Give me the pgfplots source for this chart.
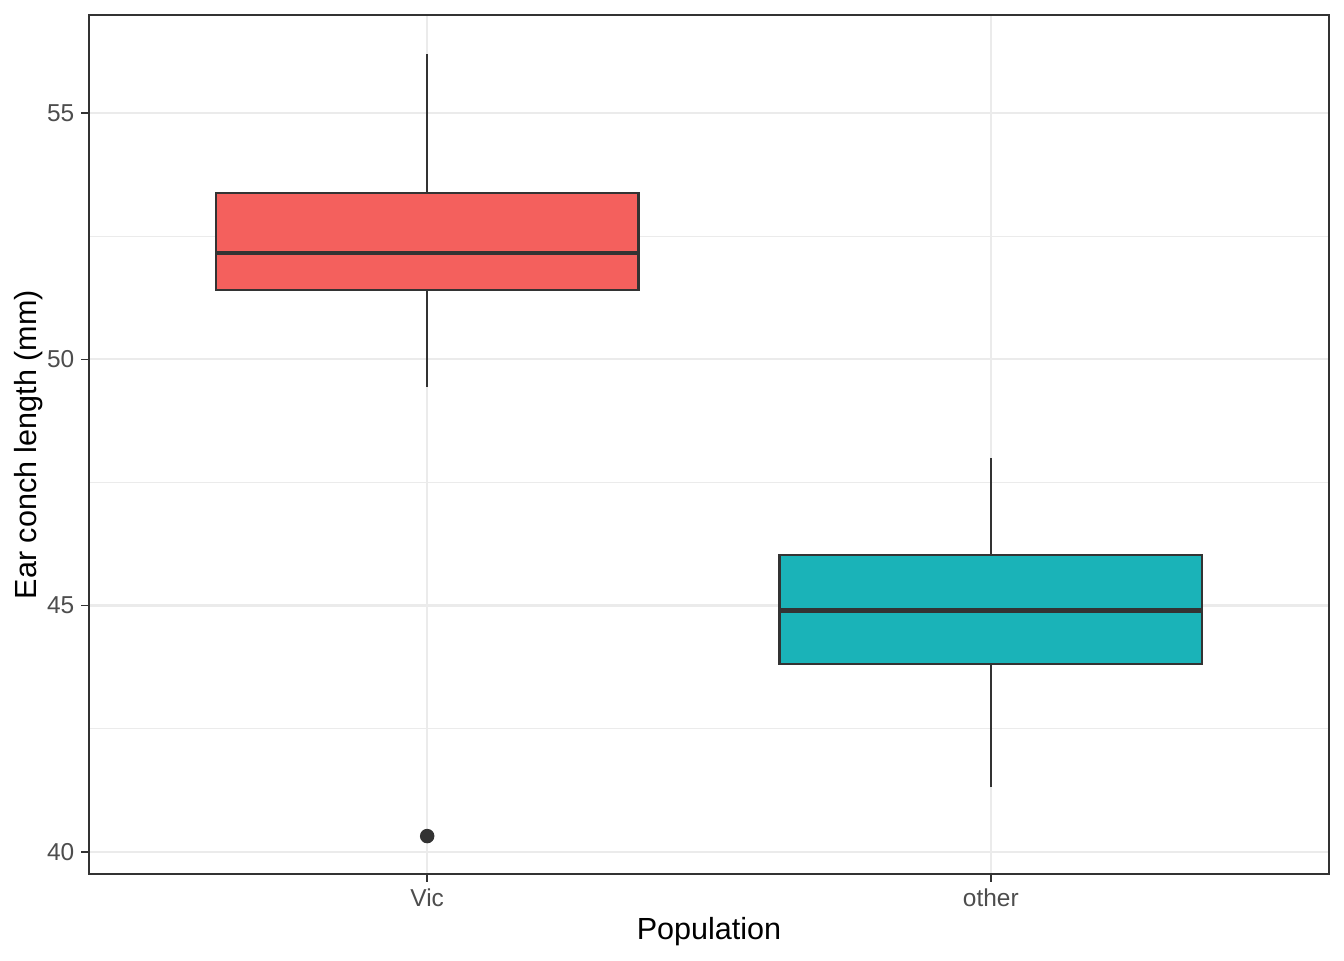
\documentclass[border=0pt]{standalone}
\usepackage{fontspec}
\setmainfont{Liberation Sans}
\usepackage{pgfplots}
\pgfplotsset{compat=1.18}
\usepgfplotslibrary{statistics}
\definecolor{vicred}{HTML}{F4605D}
\definecolor{otherteal}{HTML}{1AB3B8}
\definecolor{gridgrey}{HTML}{EBEBEB}
\definecolor{grey20}{HTML}{333333}
\definecolor{grey30}{HTML}{4D4D4D}
\begin{document}
\begin{tikzpicture}[x=1pt,y=1pt]
    % page = 1344x960 px at 0.36pt/px, axis box at origin
    \useasboundingbox (-32.04,-30.96) rectangle (451.8,314.64);
    \begin{axis}[
            scale only axis,
            width=446.4pt, height=309.24pt,
            xmin=0.4, xmax=2.6,
            ymin=39.55, ymax=56.99,
            xtick={1,2}, xticklabels={Vic,other},
            ytick={40,45,50,55},
            minor ytick={42.5,47.5,52.5},
            grid=both,
            major grid style={gridgrey, line width=0.85pt},
            minor grid style={gridgrey, line width=0.45pt},
            axis line style={grey20, line width=0.55pt},
            tick style={grey20, line width=0.55pt},
            major tick length=2.75pt,
            minor tick length=0pt,
            tick align=outside,
            xtick pos=bottom, ytick pos=left,
            ticklabel style={font=\fontsize{8.8}{10}\selectfont, text=grey30},
            xticklabel style={yshift=1pt},
            yticklabel style={xshift=1pt},
            /pgf/number format/assume math mode=true,
            xlabel={Population}, ylabel={Ear conch length (mm)},
            label style={font=\fontsize{11}{13}\selectfont},
            xlabel style={yshift=3pt},
            ylabel style={yshift=-5.5pt},
            boxplot/draw direction=y,
            boxplot/box extend=0.75,
            boxplot/whisker extend=0,
            boxplot/every median/.style={line width=1.6pt},
        ]
        \addplot+[boxplot prepared={
                draw position=1,
                lower whisker=49.43, lower quartile=51.41,
                median=52.16,
                upper quartile=53.38, upper whisker=56.2},
                fill=vicred, draw=grey20, line width=0.8pt,
                mark=*, mark size=2.2pt,
                mark options={fill=grey20, draw=grey20}]
            coordinates {(1,40.32)};
        \addplot+[boxplot prepared={
                draw position=2,
                lower whisker=41.31, lower quartile=43.82,
                median=44.9,
                upper quartile=46.02, upper whisker=48.0},
                fill=otherteal, draw=grey20, line width=0.8pt]
            coordinates {};
    \end{axis}
\end{tikzpicture}
\end{document}
